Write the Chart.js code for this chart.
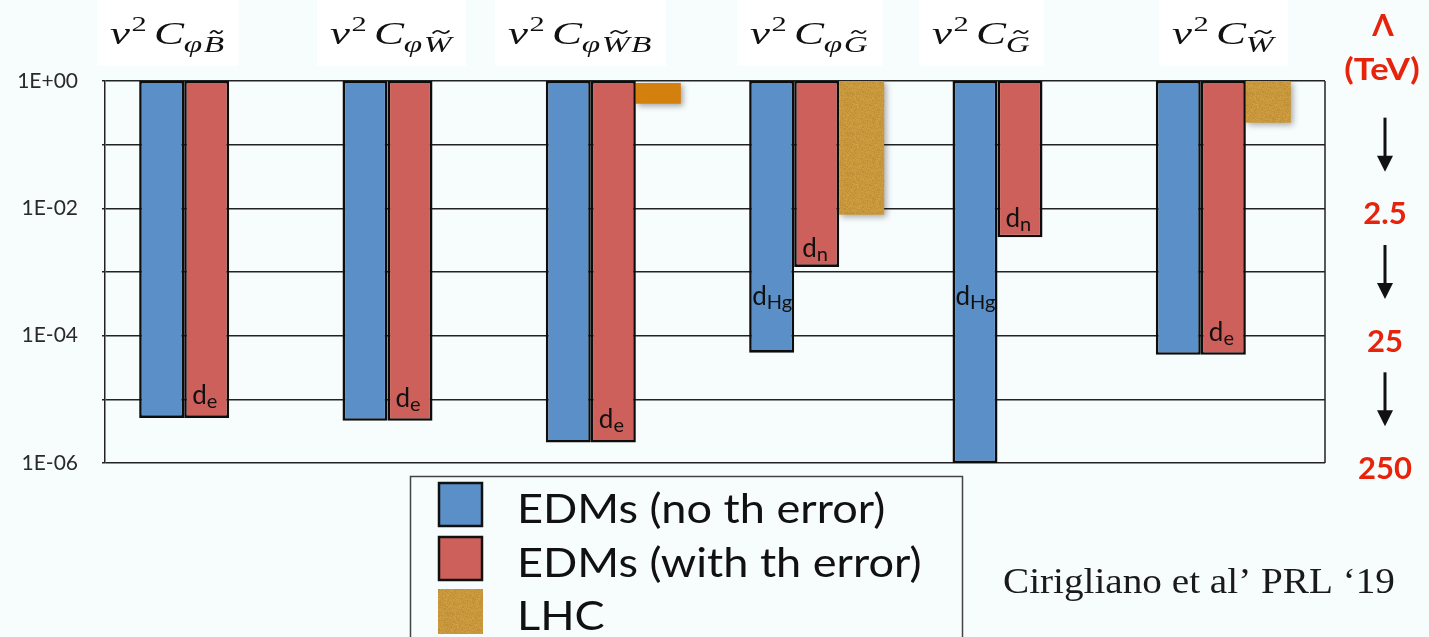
<!DOCTYPE html>
<html>
<head>
<meta charset="utf-8">
<script src="https://cdn.jsdelivr.net/npm/chart.js@4"></script>
<style>
html, body { margin: 0; padding: 0; background: #f7fcfd; }
</style>
</head>
<body>
<canvas id="edmchart" width="1429" height="637"></canvas>
<script>
// subscript of C for each operator, combining tilde = dual field strength
var operators = ['\u03c6B\u0303', '\u03c6W\u0303', '\u03c6W\u0303B', '\u03c6G\u0303', 'G\u0303', 'W\u0303'];
// bounds on v^2 C (bars hang from 1 down to the bound)
var edmNoTh   = [5.1e-6, 4.6e-6, 2.1e-6, 5.4e-5, 1.0e-6, 5.0e-5];
var edmWithTh = [5.1e-6, 4.6e-6, 2.1e-6, 1.2e-3, 3.5e-3, 5.0e-5];
var lhcTop    = [null, null, 0.93, 1, null, 1];
var lhcBottom = [null, null, 0.44, 7.9e-3, null, 0.22];
// which EDM sets the bound (d_e, d_n, d_Hg)
var noThTags   = ['', '', '', 'Hg', 'Hg', ''];
var withThTags = ['e', 'e', 'e', 'n', 'n', 'e'];
var seriesNames = ['EDMs (no th error)', 'EDMs (with th error)', 'LHC'];
var yTicks  = [1, 1e-1, 1e-2, 1e-3, 1e-4, 1e-5, 1e-6];
var yLabels = ['1E+00', '', '1E-02', '', '1E-04', '', '1E-06'];
var lambdaTicks  = [1e-2, 1e-4, 1e-6];
var lambdaLabels = ['2.5', '25', '250'];

var BLUE = '#5b8fc8', RED = '#cd605a', ORANGE = '#d4800f', LAMRED = '#e8230b';
var titleX = [110, 330, 508, 750, 932, 1172];

var canvas = document.getElementById('edmchart');

// grainy gold fill like the original slide
function makeGold(g) {
    var c = document.createElement('canvas');
    c.width = 40; c.height = 40;
    var cg = c.getContext('2d');
    var img = cg.createImageData(40, 40);
    for (var y = 0; y < 40; y++) {
        for (var x = 0; x < 40; x++) {
            var n = Math.sin(x * 12.9898 + y * 78.233) * 43758.5453;
            n = n - Math.floor(n);
            var s = (n - 0.5) * 22;
            var i = (y * 40 + x) * 4;
            img.data[i] = 200 + s;
            img.data[i + 1] = 151 + s * 0.8;
            img.data[i + 2] = 60 + s * 0.5;
            img.data[i + 3] = 255;
        }
    }
    cg.putImageData(img, 0, 0);
    return g.createPattern(c, 'repeat');
}
var gold = makeGold(canvas.getContext('2d'));
var lhcColors = lhcTop.map(function (v, i) { return i === 2 ? ORANGE : gold; });

function drawTilde(g, cx, y, w) {
    g.save();
    g.lineWidth = 1.5;
    g.strokeStyle = '#111';
    g.beginPath();
    g.moveTo(cx - w / 2, y + 1.5);
    g.bezierCurveTo(cx - w / 4, y - 3, cx - w / 8, y - 1, cx, y);
    g.bezierCurveTo(cx + w / 8, y + 1, cx + w / 4, y + 3, cx + w / 2, y - 1.5);
    g.stroke();
    g.restore();
}

// v^2 C_sub, drawn by hand (no TeX here); returns the width
function drawTitle(g, x0, base, sub, dry) {
    var sx = 1.45;
    g.save();
    g.translate(x0, 0);
    g.scale(sx, 1);
    g.fillStyle = '#111';
    g.textAlign = 'left';
    g.textBaseline = 'alphabetic';
    var x = 0;
    g.font = 'italic 31px "Liberation Serif"';
    if (!dry) g.fillText('v', x, base);
    x += g.measureText('v').width + 1;
    g.font = '21px "Liberation Serif"';
    if (!dry) g.fillText('2', x, base - 13);
    x += g.measureText('2').width + 5;
    g.font = 'italic 31px "Liberation Serif"';
    if (!dry) g.fillText('C', x, base);
    x += g.measureText('C').width;
    g.font = 'italic 23px "Liberation Serif"';
    for (var k = 0; k < sub.length; k++) {
        var ch = sub[k];
        if (ch === '\u0303') continue;
        var w = g.measureText(ch).width;
        if (!dry) {
            g.fillText(ch, x, base + 8);
            if (sub[k + 1] === '\u0303') drawTilde(g, x + w * 0.62, base - 12, w * 0.6);
        }
        x += w + 1;
    }
    g.restore();
    return x * sx;
}

var decor = {
    id: 'decor',
    beforeDraw: function (chart) {
        var g = chart.ctx;
        g.save();
        g.fillStyle = '#f7fcfd';
        g.fillRect(0, 0, chart.width, chart.height);
        g.restore();
    },
    beforeDatasetsDraw: function (chart) {
        var a = chart.chartArea, g = chart.ctx;
        g.save();
        g.strokeStyle = '#222';
        g.lineWidth = 1.5;
        g.beginPath();
        g.moveTo(a.right, a.top);
        g.lineTo(a.right, a.bottom);
        g.stroke();
        g.restore();
    },
    beforeDatasetDraw: function (chart, args) {
        if (args.index === 2) {
            var g = chart.ctx;
            g.save();
            g.shadowColor = 'rgba(0,0,0,0.35)';
            g.shadowBlur = 6;
            g.shadowOffsetX = 2;
            g.shadowOffsetY = 2;
        }
    },
    afterDatasetDraw: function (chart, args) {
        if (args.index === 2) chart.ctx.restore();
    },
    afterDatasetsDraw: function (chart) {
        var g = chart.ctx;
        var yS = chart.scales.y;
        g.save();
        g.fillStyle = '#111';
        g.textAlign = 'left';
        g.textBaseline = 'alphabetic';
        [noThTags, withThTags].forEach(function (tags, d) {
            var meta = chart.getDatasetMeta(d);
            tags.forEach(function (t, i) {
                if (!t) return;
                var el = meta.data[i];
                var left = el.x - el.width / 2;
                var bottom = Math.max(el.y, el.base);
                var x = left + (t === 'Hg' ? 3 : 8);
                var y;
                if (t === 'Hg') y = yS.getPixelForValue(3e-4);
                else if (t === 'n') y = bottom - 10;
                else y = bottom - 14;
                g.font = '26px Lato';
                g.fillText('d', x, y);
                var w = g.measureText('d').width;
                g.font = '20px Lato';
                g.fillText(t, x + w, y + 4);
            });
        });
        g.restore();
    },
    afterDraw: function (chart) {
        var g = chart.ctx;
        g.save();
        // operator headings on white patches
        operators.forEach(function (sub, i) {
            var w = drawTitle(g, titleX[i], 44, sub, true);
            g.fillStyle = '#ffffff';
            g.fillRect(titleX[i] - 13, 0, w + 26, 66);
            drawTitle(g, titleX[i], 44, sub, false);
        });

        // Lambda header and arrows for the right scale
        var lam = chart.scales.lam;
        g.fillStyle = LAMRED;
        g.textAlign = 'center';
        g.textBaseline = 'alphabetic';
        g.font = 'bold 31px Lato, "Open Sans"';
        g.fillText('\u039b', 1383, 36);
        g.save();
        g.translate(1382, 80);
        g.scale(1.15, 1);
        g.font = 'bold 30px Lato';
        g.fillText('(TeV)', 0, 0);
        g.restore();
        var marks = [1].concat(lambdaTicks);
        g.fillStyle = '#111';
        g.strokeStyle = '#111';
        for (var k = 0; k < marks.length - 1; k++) {
            var mid = (lam.getPixelForValue(marks[k]) + lam.getPixelForValue(marks[k + 1])) / 2;
            var top = mid - 27, tip = mid + 27, ax = 1385;
            g.lineWidth = 3;
            g.beginPath();
            g.moveTo(ax, top);
            g.lineTo(ax, tip - 12);
            g.stroke();
            g.beginPath();
            g.moveTo(ax - 8, tip - 16);
            g.lineTo(ax + 8, tip - 16);
            g.lineTo(ax, tip);
            g.closePath();
            g.fill();
        }

        // legend box
        var ds = chart.data.datasets;
        g.strokeStyle = '#444';
        g.lineWidth = 1.5;
        g.strokeRect(410.5, 476.5, 552, 200);
        var rowY = [482, 536, 589];
        var baseY = [523, 577, 630];
        g.textAlign = 'left';
        ds.forEach(function (d, i) {
            g.fillStyle = i === 2 ? gold : d.backgroundColor;
            g.fillRect(438, rowY[i], 45, 45);
            if (i < 2) {
                g.strokeStyle = '#111';
                g.lineWidth = 2.5;
                g.strokeRect(439, rowY[i] + 1, 43, 43);
            }
            g.fillStyle = '#111';
            g.font = '41px Lato';
            g.save();
            g.translate(517, baseY[i]);
            g.scale(1.1, 1);
            g.fillText(d.label, 0, 0);
            g.restore();
        });

        // citation
        g.font = '35px "Liberation Serif"';
        g.fillStyle = '#1a1a1a';
        g.translate(1003, 593);
        g.scale(1.12, 1);
        g.fillText('Cirigliano et al\u2019 PRL \u201819', 0, 0);
        g.restore();
    }
};

new Chart(canvas, {
    type: 'bar',
    data: {
        labels: operators.map(function (o) { return 'v\u00b2 C' + o; }),
        datasets: [
            {
                label: seriesNames[0],
                data: edmNoTh.map(function (v) { return [1, v]; }),
                backgroundColor: BLUE,
                borderColor: '#0d0d0d',
                borderWidth: 2.6,
                borderSkipped: false
            },
            {
                label: seriesNames[1],
                data: edmWithTh.map(function (v) { return [1, v]; }),
                backgroundColor: RED,
                borderColor: '#0d0d0d',
                borderWidth: 2.6,
                borderSkipped: false
            },
            {
                label: seriesNames[2],
                data: lhcTop.map(function (t, i) { return t === null ? null : [t, lhcBottom[i]]; }),
                backgroundColor: lhcColors,
                borderWidth: 0
            }
        ]
    },
    options: {
        responsive: false,
        animation: false,
        layout: { padding: { top: 81, bottom: 174, left: 0, right: 0 } },
        datasets: { bar: { categoryPercentage: 0.664, barPercentage: 1 } },
        plugins: { legend: { display: false }, tooltip: { enabled: false } },
        scales: {
            x: { display: false },
            y: {
                type: 'logarithmic',
                position: 'left',
                min: 1e-6,
                max: 1,
                afterBuildTicks: function (s) { s.ticks = yTicks.map(function (v) { return { value: v }; }); },
                afterFit: function (s) { s.width = 105; },
                grid: { color: '#222', lineWidth: 1.5, tickLength: 3 },
                border: { display: true, color: '#222', width: 1.5 },
                ticks: {
                    autoSkip: false,
                    padding: 24,
                    color: '#2a2a2a',
                    font: { family: 'Lato', size: 21 },
                    callback: function (v) { return yLabels[yTicks.indexOf(v)]; }
                }
            },
            lam: {
                type: 'logarithmic',
                position: 'right',
                min: 1e-6,
                max: 1,
                afterBuildTicks: function (s) { s.ticks = lambdaTicks.map(function (v) { return { value: v }; }); },
                afterFit: function (s) { s.width = 104; },
                grid: { display: false },
                border: { display: false },
                ticks: {
                    autoSkip: false,
                    crossAlign: 'center',
                    padding: 25,
                    labelOffset: 6,
                    color: LAMRED,
                    font: { family: 'Lato', size: 31, weight: 'bold' },
                    callback: function (v) { return lambdaLabels[lambdaTicks.indexOf(v)]; }
                }
            }
        }
    },
    plugins: [decor]
});
</script>
</body>
</html>
